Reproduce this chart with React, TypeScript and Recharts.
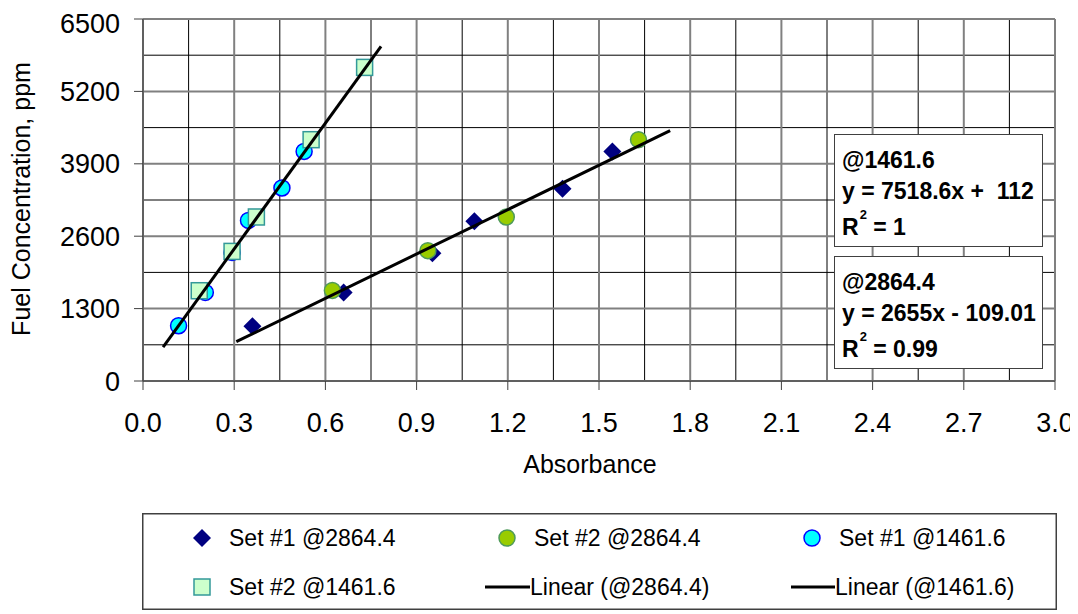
import React from 'react';
import { ScatterChart, Scatter, XAxis, YAxis, CartesianGrid, Legend } from 'recharts';

// ---- data ----
const set1At2864X = [0.36, 0.66, 0.952, 1.09, 1.38, 1.544];
const set1At2864Y = [985, 1591, 2295, 2870, 3450, 4123];
const set2At2864X = [0.623, 0.937, 1.195, 1.63];
const set2At2864Y = [1627, 2340, 2945, 4333];
const set1At1461X = [0.117, 0.205, 0.293, 0.347, 0.457, 0.53];
const set1At1461Y = [993, 1591, 2309, 2884, 3466, 4123];
const set2At1461X = [0.185, 0.293, 0.373, 0.553, 0.729];
const set2At1461Y = [1621, 2327, 2945, 4333, 5631];
const trend2864X = [0.307, 1.734];
const trend2864Y = [706, 4495];
const trend1461X = [0.066, 0.783];
const trend1461Y = [610, 6008];

const xTicks = [0, 0.3, 0.6, 0.9, 1.2, 1.5, 1.8, 2.1, 2.4, 2.7, 3.0];
const xMinor = [0.15, 0.45, 0.75, 1.05, 1.35, 1.65, 1.95, 2.25, 2.55, 2.85];
const yTicks = [0, 1300, 2600, 3900, 5200, 6500];
const yMinor = [650, 1950, 3250, 4550, 5850];

const seriesNames = ['Set #1 @2864.4', 'Set #2 @2864.4', 'Set #1 @1461.6', 'Set #2 @1461.6', 'Linear (@2864.4)', 'Linear (@1461.6)'];

const pts = (xs: number[], ys: number[]) => xs.map((x, i) => ({ x, y: ys[i] }));

const FONT = '"Liberation Sans", Arial, sans-serif';

const NAVY = '#000080';
const GREEN = '#99CC00';
const GREEN_EDGE = '#4E9A5A';
const CYAN = '#00FFFF';
const BLUE = '#0000FF';
const MINT = '#CCFFCC';
const TEAL = '#339999';

const Diamond = (p: any) => {
  const { cx, cy } = p;
  const r = 9;
  return <polygon points={`${cx},${cy - r} ${cx + r},${cy} ${cx},${cy + r} ${cx - r},${cy}`} fill={NAVY} />;
};
const GreenDot = (p: any) => <circle cx={p.cx} cy={p.cy} r={8} fill={GREEN} stroke={GREEN_EDGE} strokeWidth={1.5} />;
const CyanDot = (p: any) => <circle cx={p.cx} cy={p.cy} r={8} fill={CYAN} stroke={BLUE} strokeWidth={1.5} />;
const MintSquare = (p: any) => (
  <rect x={p.cx - 8} y={p.cy - 8} width={16} height={16} fill={MINT} stroke={TEAL} strokeWidth={1.5} />
);
const NoShape = () => <g />;

const LegendBox = () => {
  const row1 = 25;
  const row2 = 74;
  const textStyle = { fontFamily: FONT, fontSize: 23, fill: '#000' } as any;
  return (
    <svg width={915} height={97} style={{ display: 'block' }}>
      <rect x={0.75} y={0.75} width={913.5} height={95.5} fill="#fff" stroke="#404040" strokeWidth={1.5} />
      <polygon points={`60,${row1 - 9} 69,${row1} 60,${row1 + 9} 51,${row1}`} fill={NAVY} />
      <text x={87} y={row1} dy="0.35em" {...textStyle}>{seriesNames[0]}</text>
      <circle cx={365} cy={row1} r={8} fill={GREEN} stroke={GREEN_EDGE} strokeWidth={1.5} />
      <text x={392} y={row1} dy="0.35em" {...textStyle}>{seriesNames[1]}</text>
      <circle cx={670} cy={row1} r={8} fill={CYAN} stroke={BLUE} strokeWidth={1.5} />
      <text x={697} y={row1} dy="0.35em" {...textStyle}>{seriesNames[2]}</text>
      <rect x={52} y={row2 - 8} width={16} height={16} fill={MINT} stroke={TEAL} strokeWidth={1.5} />
      <text x={87} y={row2} dy="0.35em" {...textStyle}>{seriesNames[3]}</text>
      <line x1={343} y1={row2} x2={388} y2={row2} stroke="#000" strokeWidth={3} />
      <text x={388} y={row2} dy="0.35em" {...textStyle}>{seriesNames[4]}</text>
      <line x1={649} y1={row2} x2={693} y2={row2} stroke="#000" strokeWidth={3} />
      <text x={693} y={row2} dy="0.35em" {...textStyle}>{seriesNames[5]}</text>
    </svg>
  );
};

const EqBox = ({ top, lines }: { top: number; lines: React.ReactNode[] }) => {
  const centers = [25, 56, 92];
  return (
    <div
      style={{
        position: 'absolute',
        left: 826,
        top,
        width: 209,
        height: 113,
        boxSizing: 'border-box',
        background: '#fff',
        border: '1.5px solid #404040',
        fontFamily: FONT,
        fontWeight: 'bold',
        fontSize: 23,
        color: '#000',
      }}
    >
      {lines.map((l, i) => (
        <div
          key={i}
          style={{ position: 'absolute', left: 7, top: centers[i] - 14, height: 28, lineHeight: '28px', whiteSpace: 'pre' }}
        >
          {l}
        </div>
      ))}
    </div>
  );
};

const Sup2 = () => <span style={{ fontSize: 13, position: 'relative', top: -16, marginLeft: 1 }}>2</span>;

export default function App() {
  return (
    <div style={{ position: 'relative', width: 1070, height: 606, background: '#fff' }}>
      <ScatterChart width={1070} height={606} margin={{ top: 11, right: 23, left: 0, bottom: 133 }}>
        <CartesianGrid stroke="#000" strokeWidth={1} horizontalValues={yMinor} verticalValues={xMinor} />
        <CartesianGrid stroke="#808080" strokeWidth={2} horizontalValues={yTicks} verticalValues={xTicks} />
        <XAxis
          type="number"
          dataKey="x"
          domain={[0, 3]}
          ticks={xTicks}
          allowDataOverflow
          tickFormatter={(v: number) => v.toFixed(1)}
          height={100}
          tickSize={9}
          tickMargin={23}
          stroke="#404040"
          tick={{ fill: '#000', fontSize: 27, fontFamily: FONT }}
          label={{
            content: (props: any) => {
              const vb = props.viewBox;
              return (
                <text x={vb.x + vb.width / 2 - 9} y={456} textAnchor="middle" dy="0.35em" fontFamily={FONT} fontSize={25} fill="#000">
                  Absorbance
                </text>
              );
            },
          }}
        />
        <YAxis
          type="number"
          dataKey="y"
          domain={[0, 6500]}
          ticks={yTicks}
          allowDataOverflow
          width={135}
          tickSize={9}
          tickMargin={14}
          stroke="#404040"
          tick={{ fill: '#000', fontSize: 27, fontFamily: FONT }}
          label={{
            content: (props: any) => {
              const vb = props.viewBox;
              const cx = 13;
              const cy = vb.y + vb.height / 2 - 1;
              return (
                <text x={cx} y={cy} transform={`rotate(-90 ${cx} ${cy})`} textAnchor="middle" dy="0.35em" fontFamily={FONT} fontSize={25} fill="#000">
                  Fuel Concentration, ppm
                </text>
              );
            },
          }}
        />
        <Scatter name={seriesNames[0]} data={pts(set1At2864X, set1At2864Y)} shape={Diamond} isAnimationActive={false} />
        <Scatter name={seriesNames[1]} data={pts(set2At2864X, set2At2864Y)} shape={GreenDot} isAnimationActive={false} />
        <Scatter name={seriesNames[2]} data={pts(set1At1461X, set1At1461Y)} shape={CyanDot} isAnimationActive={false} />
        <Scatter name={seriesNames[3]} data={pts(set2At1461X, set2At1461Y)} shape={MintSquare} isAnimationActive={false} />
        <Scatter
          name={seriesNames[4]}
          data={pts(trend2864X, trend2864Y)}
          shape={NoShape}
          line={{ stroke: '#000', strokeWidth: 3 }}
          isAnimationActive={false}
        />
        <Scatter
          name={seriesNames[5]}
          data={pts(trend1461X, trend1461Y)}
          shape={NoShape}
          line={{ stroke: '#000', strokeWidth: 3 }}
          isAnimationActive={false}
        />
        <Legend
          layout="horizontal"
          verticalAlign="middle"
          align="center"
          wrapperStyle={{ top: 505, left: 134, width: 915, height: 97 }}
          content={() => <LegendBox />}
        />
      </ScatterChart>
      <EqBox top={126} lines={['@1461.6', 'y = 7518.6x +  112', <span key="r">R<Sup2 /> = 1</span>]} />
      <EqBox top={248} lines={['@2864.4', 'y = 2655x - 109.01', <span key="r">R<Sup2 /> = 0.99</span>]} />
    </div>
  );
}
